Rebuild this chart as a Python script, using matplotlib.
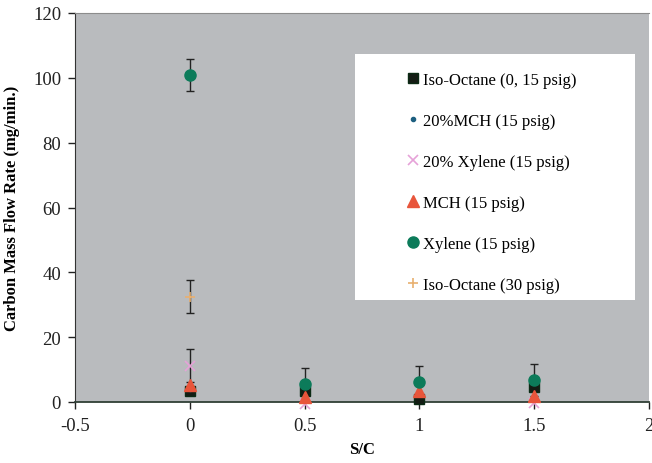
import numpy as np
import matplotlib
matplotlib.use("Agg")
import matplotlib.pyplot as plt
from matplotlib.patches import Rectangle

plt.rcParams['font.family'] = ['Liberation Serif', 'DejaVu Serif']

# data
sc_iso15 = [0, 0.5, 1, 1.5]
iso15 = [3.5, 3.4, 0.9, 4.6]
sc_mch20 = [0]
mch20 = [4.0]
sc_xyl20 = [0, 0.5, 1.5]
xyl20 = [11.2, -0.5, -0.3]
sc_mch = [0, 0.5, 1, 1.5]
mch = [5.2, 1.5, 3.4, 1.9]
sc_xyl = [0, 0.5, 1, 1.5]
xyl = [100.8, 5.4, 6.2, 6.8]
sc_iso30 = [0]
iso30 = [32.5]
err_xyl20 = 5.0
err_xyl = 5.0
err_iso30 = 5.0

labels = ['Iso-Octane (0, 15 psig)', '20%MCH (15 psig)', '20% Xylene (15 psig)',
          'MCH (15 psig)', 'Xylene (15 psig)', 'Iso-Octane (30 psig)']

fig = plt.figure(figsize=(6.52, 4.64), dpi=100)
ax = fig.add_axes([75/652, 1-403/464, (649-75)/652, (403-14)/464])
ax.set_facecolor('#b9bbbe')

series = [
    (sc_iso15, iso15, None, dict(marker='s', color='#141c14', ms=7, mec='#0b2a14')),
    (sc_mch20, mch20, None, dict(marker='o', color='#1d5f80', ms=3)),
    (sc_xyl20, xyl20, err_xyl20, dict(marker='x', color='#e6a2d8', ms=7, mew=1.2)),
    (sc_mch, mch, None, dict(marker='^', color='#e8553b', ms=8)),
    (sc_xyl, xyl, err_xyl, dict(marker='o', color='#0c7b5a', ms=8)),
    (sc_iso30, iso30, err_iso30, dict(marker='+', color='#e8b070', ms=7, mew=1.2)),
]

handles = []
for (x, y, e, st), lab in zip(series, labels):
    if e is not None:
        ax.errorbar(x, y, yerr=e, fmt='none', ecolor='#222222', elinewidth=1,
                    capsize=3, capthick=1, zorder=2)
    h, = ax.plot(x, y, linestyle='none', label=lab, zorder=3, clip_on=False, **st)
    handles.append(h)

ax.set_xlim(-0.5, 2)
ax.set_ylim(0, 120)
ax.set_xticks([-0.5, 0, 0.5, 1, 1.5, 2])
ax.set_xticklabels(['-0.5', '0', '0.5', '1', '1.5', '2'])
ax.set_yticks(np.arange(0, 121, 20))
ax.tick_params(axis='both', labelsize=13.5, colors='#222222', length=5, width=1)
ax.tick_params(axis='x', pad=6)
ax.tick_params(axis='y', pad=5)

ax.spines['right'].set_visible(False)
ax.spines['top'].set_color('#8c8c8c')
ax.spines['top'].set_linewidth(0.8)
ax.spines['left'].set_color('#333333')
ax.spines['bottom'].set_color('#2f3f35')
ax.spines['bottom'].set_linewidth(1.3)

ax.set_xlabel('S/C', fontsize=12, fontweight='bold', labelpad=5)
ax.set_ylabel('Carbon Mass Flow Rate (mg/min.)', fontsize=12, fontweight='bold', labelpad=9)

# white legend panel (axes fractions of a 574 x 389 px plot area)
ax.add_patch(Rectangle((280/574, 102/389), 280/574, 246/389, transform=ax.transAxes,
                       facecolor='white', edgecolor='none', zorder=4))
leg = ax.legend(handles=handles, loc='upper left', bbox_to_anchor=(333/574, 1-59/389),
                frameon=False, fontsize=12, labelspacing=1.5, handlelength=0.6,
                handletextpad=0.3, borderpad=0, borderaxespad=0)
leg.set_zorder(5)

fig.savefig('out.png', dpi=100)
